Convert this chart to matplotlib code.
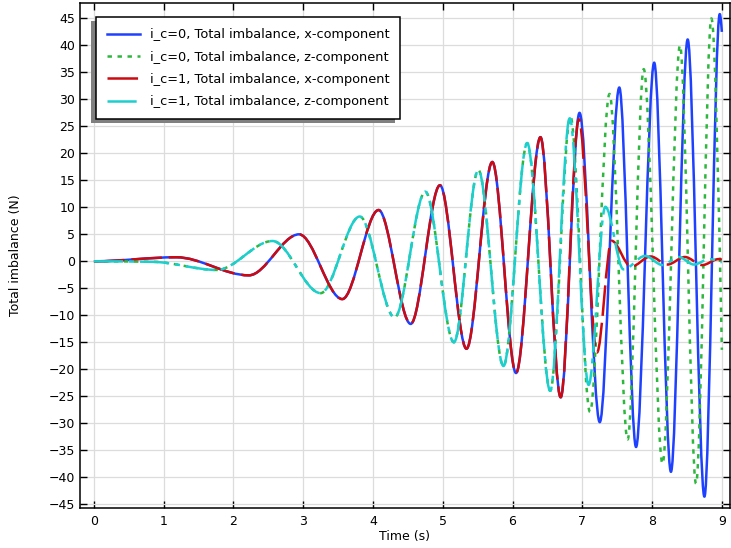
import numpy as np
import matplotlib
matplotlib.use("Agg")
import matplotlib.pyplot as plt
from matplotlib.path import Path
from matplotlib.patches import PathPatch, Rectangle
from matplotlib.lines import Line2D
from matplotlib.transforms import IdentityTransform

# ---------- data: turning points (time in s, force in N) ----------
# x-component, identical for both i_c values up to ~6.7 s
X_SHARED_T = [0.0, 1.18, 2.22, 2.94, 3.56, 4.08, 4.54, 4.96, 5.34, 5.71, 6.05, 6.40, 6.69]
X_SHARED_V = [0.0, 0.75, -2.6, 5.0, -7.0, 9.5, -11.6, 14.1, -16.2, 18.4, -20.7, 23.0, -25.2]

# i_c=0 keeps growing, i_c=1 dies out
X0_TAIL_T = [6.96, 7.25, 7.53, 7.77, 8.03, 8.27, 8.51, 8.75, 8.97, 9.0]
X0_TAIL_V = [27.5, -29.8, 32.2, -34.4, 36.8, -39.0, 41.1, -43.6, 45.8, 42.5]
X1_TAIL_T = [6.95, 7.21, 7.42, 7.70, 7.98, 8.22, 8.47, 8.72, 8.95, 9.0]
X1_TAIL_V = [26.3, -16.9, 3.8, -1.0, 0.9, -0.6, 0.8, -0.7, 0.4, 0.3]

# z-component, identical for both i_c values up to ~6.5 s
Z_SHARED_T = [0.0, 0.85, 1.76, 2.56, 3.25, 3.81, 4.31, 4.75, 5.16, 5.51, 5.87, 6.21, 6.54]
Z_SHARED_V = [0.0, -0.1, -1.6, 3.76, -5.9, 8.3, -10.4, 12.9, -15.0, 16.9, -19.4, 21.9, -24.0]

Z0_TAIL_T = [6.83, 7.11, 7.39, 7.65, 7.88, 8.15, 8.40, 8.63, 8.85, 9.0]
Z0_TAIL_V = [26.8, -27.9, 31.0, -33.0, 35.6, -37.5, 40.0, -41.2, 45.0, -16.4]
Z1_TAIL_T = [6.82, 7.09, 7.33, 7.59, 7.90, 8.15, 8.38, 8.60, 8.82, 9.0]
Z1_TAIL_V = [26.5, -22.9, 10.1, -1.5, 1.0, -0.7, 0.8, -0.6, 0.4, -0.2]

LABELS = [
    "i_c=0, Total imbalance, x-component",
    "i_c=0, Total imbalance, z-component",
    "i_c=1, Total imbalance, x-component",
    "i_c=1, Total imbalance, z-component",
]
X_TICKS = list(range(0, 10))
Y_TICKS = list(range(-45, 50, 5))

# ---------- styles ----------
COLORS = ["#1e40ff", "#2db83d", "#cc0a10", "#1ccfcf"]
DASHES = [
    "-",
    (0, (3.2, 4.0)),                 # dotted
    (0, (22.0, 5.0)),                # long dash
    (0, (21.0, 4.3, 3.6, 4.3)),      # dash-dot
]
LW = 1.8

plt.rcParams["lines.scale_dashes"] = False
plt.rcParams["font.family"] = "DejaVu Sans"


def smooth_path(t, v):
    """Cubic Bezier path through the turning points (monotone Hermite slopes)."""
    t = np.asarray(t, float)
    v = np.asarray(v, float)
    h = np.diff(t)
    d = np.diff(v) / h
    m = np.zeros_like(v)
    for k in range(1, len(v) - 1):
        if d[k - 1] * d[k] > 0:
            w1 = 2 * h[k] + h[k - 1]
            w2 = h[k] + 2 * h[k - 1]
            m[k] = (w1 + w2) / (w1 / d[k - 1] + w2 / d[k])
    m[-1] = 1.5 * d[-1]
    verts = [(t[0], v[0])]
    codes = [Path.MOVETO]
    for k in range(len(h)):
        verts += [(t[k] + h[k] / 3, v[k] + m[k] * h[k] / 3),
                  (t[k + 1] - h[k] / 3, v[k + 1] - m[k + 1] * h[k] / 3),
                  (t[k + 1], v[k + 1])]
        codes += [Path.CURVE4] * 3
    return Path(verts, codes)


series = [
    (X_SHARED_T + X0_TAIL_T, X_SHARED_V + X0_TAIL_V),
    (Z_SHARED_T + Z0_TAIL_T, Z_SHARED_V + Z0_TAIL_V),
    (X_SHARED_T + X1_TAIL_T, X_SHARED_V + X1_TAIL_V),
    (Z_SHARED_T + Z1_TAIL_T, Z_SHARED_V + Z1_TAIL_V),
]

fig = plt.figure(figsize=(7.31, 5.48), dpi=100)
ax = fig.add_axes([0.1094, 0.073, 0.8886, 0.922])

for i, (t, v) in enumerate(series):
    ax.add_patch(PathPatch(smooth_path(t, v), fill=False, edgecolor=COLORS[i],
                           lw=LW, linestyle=DASHES[i], capstyle="butt",
                           joinstyle="round", zorder=2 + 0.1 * i))

ax.set_xlim(-0.2, 9.11)
ax.set_ylim(-45.7, 47.9)
ax.set_xticks(X_TICKS)
ax.set_yticks(Y_TICKS)
ax.grid(True, color="#dcdcdc", lw=0.9)
ax.set_axisbelow(True)
ax.tick_params(direction="in", length=5, width=1.0, top=True, right=True,
               labelsize=9, colors="black")
ax.tick_params(axis="x", pad=5)
ax.tick_params(axis="y", pad=3.5)
for sp in ax.spines.values():
    sp.set_linewidth(1.1)

ax.set_xlabel("Time (s)", fontsize=9, labelpad=1.5)
ax.set_ylabel("Total imbalance (N)", fontsize=9, labelpad=19)

handles = [Line2D([], [], color=COLORS[i], lw=LW, linestyle=DASHES[i],
                  dash_capstyle="butt") for i in range(4)]
leg = ax.legend(handles, LABELS, loc="upper left", bbox_to_anchor=(0.0242, 0.971),
                borderaxespad=0, fontsize=9.3, handlelength=2.55, handletextpad=0.77,
                borderpad=0.85, labelspacing=0.72, fancybox=False, framealpha=1,
                edgecolor="black")
leg.get_frame().set_linewidth(1.1)
leg.set_zorder(6)

# offset grey shadow behind the legend box (down-left)
fig.canvas.draw()
bb = leg.get_window_extent()
shadow = Rectangle((bb.x0 - 5, bb.y0 - 3.5), bb.width, bb.height,
                   transform=IdentityTransform(), facecolor="#808080",
                   edgecolor="none", zorder=5.5, clip_on=False)
ax.add_artist(shadow)

fig.savefig("out.png", dpi=100)
